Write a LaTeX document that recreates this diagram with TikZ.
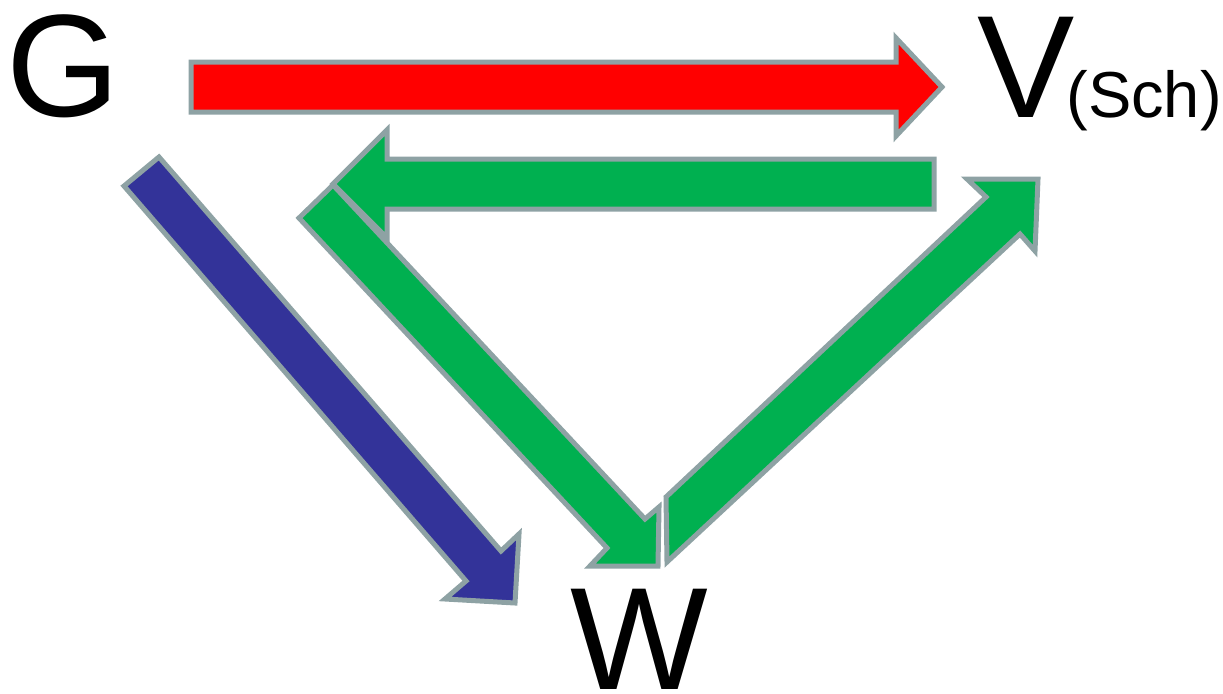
\documentclass[tikz,border=0pt]{standalone}
\usepackage{fontspec}
\setmainfont{Liberation Sans}
\definecolor{outl}{RGB}{142,162,164}
\definecolor{ared}{RGB}{255,0,0}
\definecolor{agreen}{RGB}{0,176,80}
\definecolor{ablue}{RGB}{51,51,153}
\begin{document}
\begin{tikzpicture}[x=0.02cm,y=-0.02cm,
  blockarrow/.style={draw=outl,line width=0.1cm,line join=miter},
  bigletter/.style={inner sep=0pt,anchor=base west,font=\fontsize{83}{90}\selectfont},
  sublabel/.style={inner sep=0pt,anchor=base west,font=\fontsize{37}{42}\selectfont}]
\useasboundingbox (0,0) rectangle (1223,693);
% labels
\node[bigletter] (G) at (6,116) {G};
\node[bigletter] (V) at (977,117) {V};
\node[sublabel] (Sch) at (1066,117) {(Sch)};
\node[bigletter] (W) at (570,689) {W};
% blue arrow G -> W
\draw[blockarrow,fill=ablue] (124,186) -- (466,581) -- (445,599) -- (515,603) -- (519,534) -- (501,551) -- (159,157) -- cycle;
% green arrow down to W
\draw[blockarrow,fill=agreen] (299,218) -- (607,548) -- (590,566) -- (658,566) -- (659,507) -- (645,519) -- (333,185) -- cycle;
% green arrow W -> V
\draw[blockarrow,fill=agreen] (666,497) -- (986,197) -- (967,179) -- (1038,179) -- (1035,251) -- (1020,234) -- (667,562) -- cycle;
% green arrow V -> left
\draw[blockarrow,fill=agreen] (934,159) -- (387,159) -- (387,130) -- (333,184) -- (387,238) -- (387,209) -- (934,209) -- cycle;
% red arrow G -> V
\draw[blockarrow,fill=ared] (191,62) -- (896,62) -- (896,38) -- (942,87) -- (896,136) -- (896,112) -- (191,112) -- cycle;
\end{tikzpicture}
\end{document}
